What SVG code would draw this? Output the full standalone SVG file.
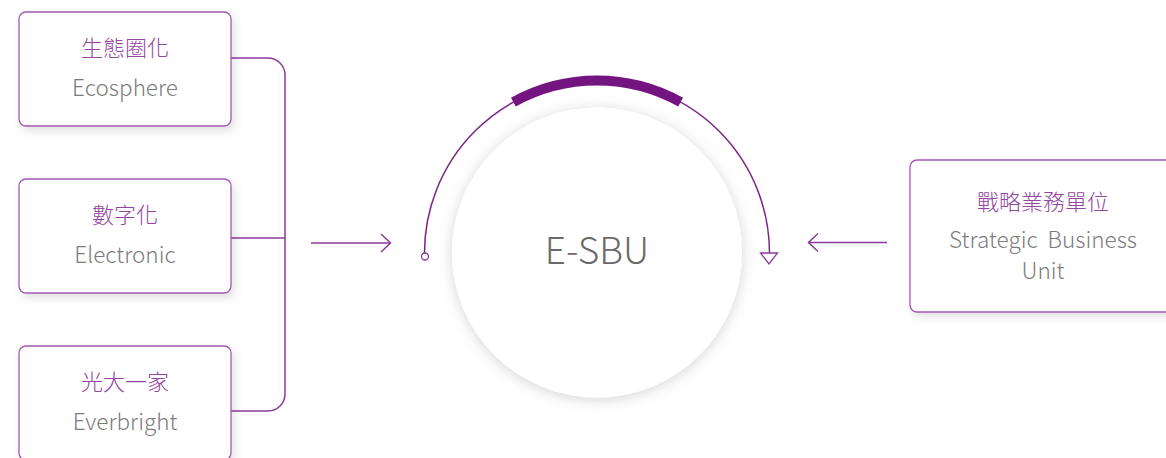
<svg xmlns="http://www.w3.org/2000/svg" width="1166" height="458" viewBox="0 0 1166 458">
  <style>
    .box { fill: #ffffff; stroke: #a359b0; stroke-width: 1.3; }
    .line { fill: none; stroke: #8c3a9a; stroke-width: 1.5; }
    .zh { font-family: "Noto Sans CJK TC", "Noto Sans CJK SC", sans-serif; font-weight: 300; font-size: 22px; fill: #9446a3; text-anchor: middle; }
    .en { font-family: "Noto Sans CJK TC", "Noto Sans", sans-serif; font-weight: 300; font-size: 22.5px; fill: #7c7c7c; text-anchor: middle; }
    .title { font-family: "Noto Sans CJK TC", "Noto Sans", sans-serif; font-weight: 300; font-size: 37px; fill: #6a6a6a; text-anchor: middle; }
  </style>
  <defs>
    <filter id="boxShadow" x="-20%" y="-20%" width="140%" height="150%">
      <feDropShadow dx="3" dy="4" stdDeviation="5" flood-color="#000000" flood-opacity="0.12"/>
    </filter>
    <filter id="circleShadow" x="-20%" y="-20%" width="140%" height="140%">
      <feDropShadow dx="0" dy="2" stdDeviation="7" flood-color="#000000" flood-opacity="0.17"/>
    </filter>
  </defs>
  <rect width="1166" height="458" fill="#ffffff"/>

  <g id="connectors">
    <path class="line" d="M231 58 H268 A17 17 0 0 1 285 75 V394 A17 17 0 0 1 268 411 H231"/>
    <path class="line" d="M231 238 H285"/>
    <path class="line" d="M311 243 H390"/>
    <path class="line" d="M381 234 L390.5 243 L381 252"/>
    <path class="line" d="M887 242.5 H808"/>
    <path class="line" d="M818 233.5 L808.5 242.5 L818 251.5"/>
  </g>

  <g id="node-ecosphere">
    <rect class="box" x="19" y="12" width="212" height="114" rx="7" filter="url(#boxShadow)"/>
    <text class="zh" x="125" y="56">生態圈化</text>
    <text class="en" x="125" y="96">Ecosphere</text>
  </g>
  <g id="node-electronic">
    <rect class="box" x="19" y="179" width="212" height="114" rx="7" filter="url(#boxShadow)"/>
    <text class="zh" x="125" y="223">數字化</text>
    <text class="en" x="125" y="263">Electronic</text>
  </g>
  <g id="node-everbright">
    <rect class="box" x="19" y="346" width="212" height="114" rx="7" filter="url(#boxShadow)"/>
    <text class="zh" x="125" y="390">光大一家</text>
    <text class="en" x="125" y="430">Everbright</text>
  </g>

  <g id="node-esbu">
    <circle cx="597" cy="252.5" r="145" fill="#ffffff" filter="url(#circleShadow)"/>
    <text class="title" x="597" y="264">E-SBU</text>
    <path fill="none" stroke="#7b2286" stroke-width="1.5" d="M424.5 253 A172.5 172.5 0 0 1 769.5 253"/>
    <path fill="none" stroke="#741480" stroke-width="10" d="M513.4 102.1 A172.5 172.5 0 0 1 680.6 102.1"/>
    <circle cx="425" cy="256.5" r="3.5" fill="#ffffff" stroke="#8c3a9a" stroke-width="1.3"/>
    <path d="M760.5 253 H777.5 L769 264 Z" fill="#ffffff" stroke="#8c3a9a" stroke-width="1.3" stroke-linejoin="miter"/>
  </g>

  <g id="node-sbu">
    <rect class="box" x="910" y="160" width="270" height="152" rx="7" filter="url(#boxShadow)"/>
    <text class="zh" x="1043" y="210">戰略業務單位</text>
    <text class="en" x="1043" y="248" xml:space="preserve">Strategic  Business</text>
    <text class="en" x="1043" y="279">Unit</text>
  </g>
</svg>
